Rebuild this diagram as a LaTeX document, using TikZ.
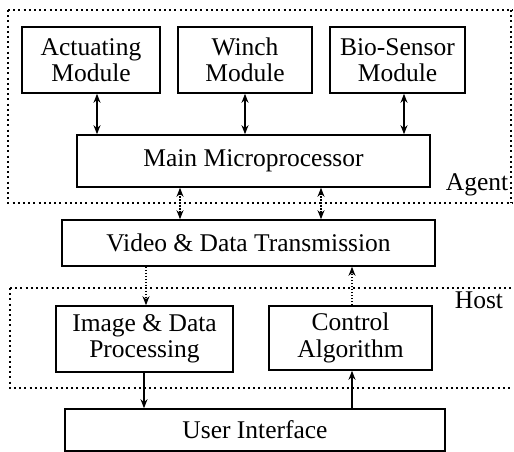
\documentclass[tikz,border=0pt]{standalone}
\usepackage{fontspec}
\setmainfont{Liberation Serif}
\usetikzlibrary{arrows.meta}
\begin{document}
\begin{tikzpicture}[x=1pt,y=-1pt,
  blockbox/.style={draw,line width=1.6pt,align=center,inner sep=0pt,
    font=\fontsize{25.5}{26.5}\selectfont},
  group/.style={line width=2pt,dash pattern=on 2pt off 3.2pt},
  solidlink/.style={line width=1.4pt,-{Stealth[length=9pt,width=7pt]}},
  solidboth/.style={line width=1.4pt,{Stealth[length=9pt,width=7pt]}-{Stealth[length=9pt,width=7pt]}},
  dotlink/.style={line width=1.2pt,dash pattern=on 1.3pt off 1.7pt,
    -{Stealth[length=9pt,width=7pt]}},
  dotboth/.style={line width=1.2pt,dash pattern=on 1.3pt off 1.7pt,
    {Stealth[length=9pt,width=7pt]}-{Stealth[length=9pt,width=7pt]}},
  tag/.style={font=\fontsize{25.5}{26.5}\selectfont,inner sep=0pt}]
\useasboundingbox (0,0) rectangle (514,452);
\fill[white] (0,0) rectangle (514,452);

% agent and host groupings
\draw[group] (8,10) -- (513,10) (8,10) -- (8,203) -- (513,203) (511,10) -- (511,203);
\draw[group] (10,288) -- (513,288) (10,288) -- (10,388) -- (513,388);
\node[tag] (agent) at (477,185) {Agent};
\node[tag] (host) at (479,300) {Host};

% blocks
\node[blockbox,minimum width=138,minimum height=66] (act) at (91,60) {Actuating\\Module};
\node[blockbox,minimum width=134,minimum height=66] (winch) at (245,60) {Winch\\Module};
\node[blockbox,minimum width=135,minimum height=66] (bio) at (397.5,60) {Bio-Sensor\\Module};
\node[blockbox,minimum width=353,minimum height=52] (main) at (253.5,161) {Main Microprocessor};
\node[blockbox,minimum width=373,minimum height=46] (vid) at (248.5,243) {Video \& Data Transmission};
\node[blockbox,minimum width=177,minimum height=66] (img) at (144.5,339) {Image \& Data\\Processing};
\node[blockbox,minimum width=163,minimum height=64] (ctrl) at (350.5,338) {Control\\Algorithm};
\node[blockbox,minimum width=380,minimum height=42] (ui) at (255,430) {User Interface};

% module links
\draw[solidboth] ([xshift=6pt]act.south) -- ([xshift=6pt]act.south |- main.north);
\draw[solidboth] (winch.south) -- (winch.south |- main.north);
\draw[solidboth] ([xshift=6.5pt]bio.south) -- ([xshift=6.5pt]bio.south |- main.north);

% wireless links
\draw[dotboth] ([xshift=-73.5pt]main.south) -- ([xshift=-73.5pt]main.south |- vid.north);
\draw[dotboth] ([xshift=67.5pt]main.south) -- ([xshift=67.5pt]main.south |- vid.north);
\draw[dotlink] ([xshift=1.5pt]img.north |- vid.south) -- ([xshift=1.5pt]img.north);
\draw[dotlink] ([xshift=1.5pt]ctrl.north) -- ([xshift=1.5pt]ctrl.north |- vid.south);

% host to user interface
\draw[solidlink] ([xshift=-0.5pt]img.south) -- ([xshift=-0.5pt]img.south |- ui.north);
\draw[solidlink] ([xshift=1.5pt]ctrl.south |- ui.north) -- ([xshift=1.5pt]ctrl.south);
\end{tikzpicture}
\end{document}
